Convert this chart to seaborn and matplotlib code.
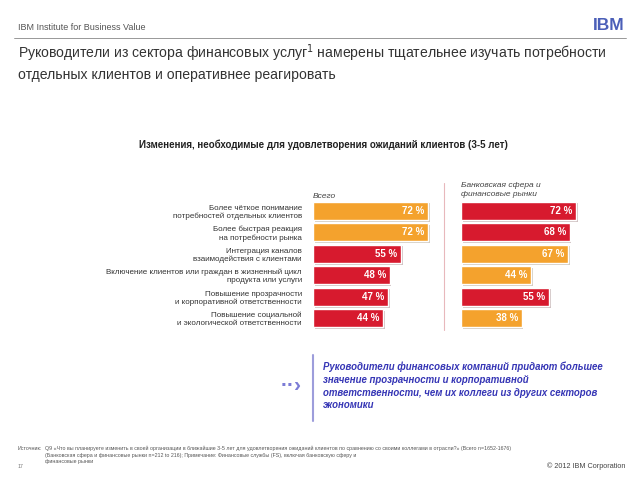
import numpy as np
import pandas as pd
import matplotlib.pyplot as plt
import matplotlib.patheffects as pe
import seaborn as sns

# Данные графика
categories = [
    'Более чёткое понимание\nпотребностей отдельных клиентов',
    'Более быстрая реакция\nна потребности рынка',
    'Интеграция каналов\nвзаимодействия с клиентами',
    'Включение клиентов или граждан в жизненный цикл\nпродукта или услуги',
    'Повышение прозрачности\nи корпоративной ответственности',
    'Повышение социальной\nи экологической ответственности',
]
total_values = [72, 72, 55, 48, 47, 44]
bank_values = [72, 68, 67, 44, 55, 38]
total_colors = ['orange', 'orange', 'red', 'red', 'red', 'red']
bank_colors = ['red', 'red', 'orange', 'orange', 'red', 'orange']

ORANGE = '#F4A22D'
RED = '#D71A2E'
pal = {'orange': ORANGE, 'red': RED}

sns.set_style('white')
plt.rcParams['font.family'] = ['Liberation Sans', 'DejaVu Sans']

df_total = pd.DataFrame({'cat': categories, 'val': total_values, 'col': total_colors})
df_bank = pd.DataFrame({'cat': categories, 'val': bank_values, 'col': bank_colors})

fig = plt.figure(figsize=(6.4, 4.8), dpi=100)

ax1 = fig.add_axes([313 / 640, 1 - 329 / 480, 0.25, 129 / 480])
ax2 = fig.add_axes([461 / 640, 1 - 329 / 480, 0.25, 129 / 480])

shadow = [pe.SimplePatchShadow(offset=(1.2, -1.2), alpha=0.25), pe.Normal()]

for ax, df in [(ax1, df_total), (ax2, df_bank)]:
    sns.barplot(data=df, x='val', y='cat', hue='col', palette=pal, dodge=False,
                width=0.86, legend=False, ax=ax, saturation=1)
    for p in ax.patches:
        p.set_path_effects(shadow)
    for i, v in enumerate(df['val']):
        ax.text(v - 2.5, i, f'{v} %', ha='right', va='center', color='white',
                fontsize=7, fontweight='bold')
    ax.set_xlim(0, 100)
    ax.set_ylim(5.5, -0.5)
    ax.set_xlabel('')
    ax.set_ylabel('')
    ax.set_xticks([])
    sns.despine(ax=ax, left=True, bottom=True)

ax1.tick_params(axis='y', length=0, pad=8, labelsize=5.8, colors='#333333')
ax2.set_yticks([])

fig.text(313 / 640, 1 - 197 / 480, 'Всего', fontsize=6, style='italic', color='#444444', va='center')
fig.text(461 / 640, 1 - 190 / 480, 'Банковская сфера и\nфинансовые рынки', fontsize=6,
         style='italic', color='#444444', va='center', linespacing=1.3)

# разделитель
fig.add_artist(plt.Line2D([444 / 640, 444 / 640], [1 - 183 / 480, 1 - 330 / 480],
                          color='#E8B8BC', lw=0.8))

# заголовок графика
fig.text(323 / 640, 1 - 145 / 480,
         'Изменения, необходимые для удовлетворения ожиданий клиентов (3-5 лет)',
         ha='center', va='center', fontsize=7, fontweight='bold', color='#222222')

# шапка
fig.text(18 / 640, 1 - 28 / 480, 'IBM Institute for Business Value', fontsize=6.5,
         color='#555555', va='center')
fig.add_artist(plt.Line2D([14 / 640, 626 / 640], [1 - 38 / 480, 1 - 38 / 480],
                          color='#888888', lw=0.6))
fig.text(625 / 640, 1 - 25 / 480, 'IBM', fontsize=12.5, fontweight='bold', color='#4B5FB8',
         ha='right', va='center')
for yy in [20.5, 23, 25.5, 28, 30.5]:
    fig.add_artist(plt.Line2D([598 / 640, 627 / 640], [1 - yy / 480, 1 - yy / 480],
                              color='white', lw=0.6))

fig.text(18 / 640, 1 - 62 / 480,
         'Руководители из сектора финансовых услуг$^1$ намерены тщательнее изучать потребности\n'
         'отдельных клиентов и оперативнее реагировать',
         fontsize=10.1, color='#333333', va='center', linespacing=1.4)

# выноска
fig.add_artist(plt.Line2D([313 / 640, 313 / 640], [1 - 355 / 480, 1 - 421 / 480],
                          color='#9D9DDB', lw=1.5))
fig.text(291 / 640, 1 - 385 / 480, '··›', fontsize=15, fontweight='bold', color='#7C7CD6',
         ha='center', va='center')
fig.text(323 / 640, 1 - 386 / 480,
         'Руководители финансовых компаний придают большее\n'
         'значение прозрачности и корпоративной\n'
         'ответственности, чем их коллеги из других секторов\n'
         'экономики',
         fontsize=6.9, style='italic', fontweight='bold', color='#3535B5', va='center',
         linespacing=1.35)

# подвал
fig.text(18 / 640, 1 - 448 / 480, 'Источник:', fontsize=3.8, color='#555555', va='center')
fig.text(45 / 640, 1 - 455 / 480,
         'Q9 «Что вы планируете изменить в своей организации в ближайшие 3-5 лет для удовлетворения '
         'ожиданий клиентов по сравнению со своими коллегами в отрасли?» (Всего n=1652-1676)\n'
         '(Банковская сфера и финансовые рынки n=212 to 216); Примечание: Финансовые службы (FS), '
         'включая банковскую сферу и\nфинансовые рынки',
         fontsize=3.8, color='#555555', va='center', linespacing=1.4)
fig.text(18 / 640, 1 - 466 / 480, '17', fontsize=3.8, color='#777777', va='center')
fig.text(625 / 640, 1 - 466 / 480, '© 2012 IBM Corporation', fontsize=5.2, color='#444444',
         ha='right', va='center')

fig.savefig('out.png', dpi=100)
